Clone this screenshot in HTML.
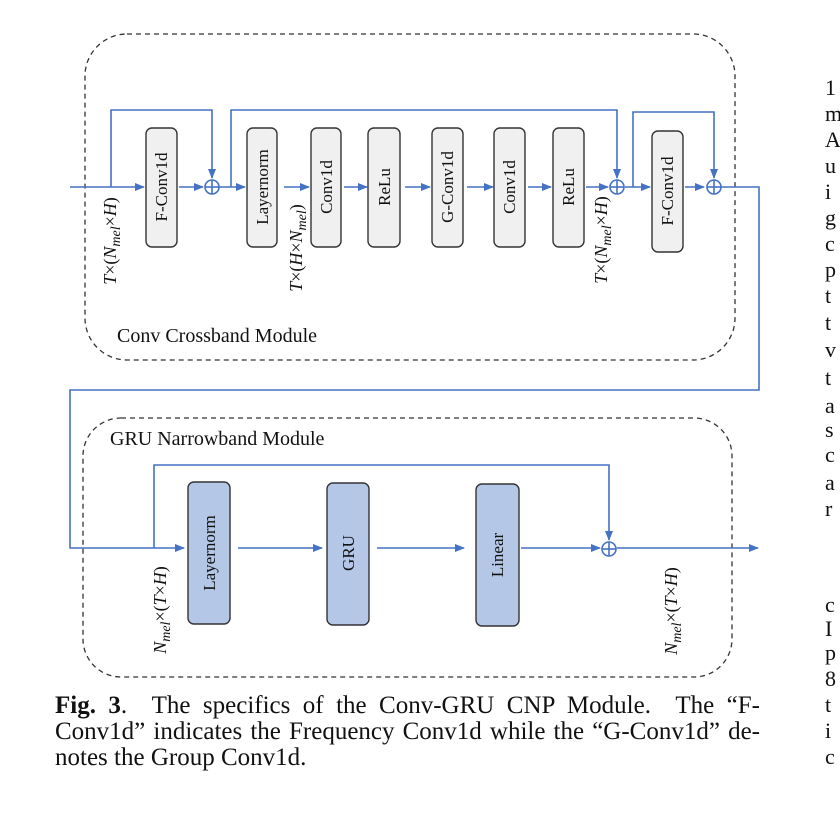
<!DOCTYPE html>
<html><head><meta charset="utf-8"><style>
html,body{margin:0;padding:0;background:#fff}
svg{display:block;position:absolute;left:0;top:0}
text{font-family:"Liberation Serif",serif;fill:#111}
.b{font-size:17px}
.cap{position:absolute;left:55px;top:0;width:705px;font-family:"Liberation Serif",serif;font-size:25px;color:#111}
.cap div{position:absolute;left:0;width:705px;white-space:nowrap;text-align:justify;text-align-last:justify;line-height:26px}
</style></head><body>
<svg width="840" height="820" viewBox="0 0 840 820" xmlns="http://www.w3.org/2000/svg">
<defs>
<marker id="a" markerWidth="10" markerHeight="8" refX="9" refY="4" orient="auto" markerUnits="userSpaceOnUse">
<path d="M0,0 L10,4 L0,8 z" fill="#4472c4"/></marker>
</defs>
<rect x="85" y="34" width="650" height="326" rx="42" fill="none" stroke="#333" stroke-width="1.3" stroke-dasharray="5,4"/>
<rect x="83" y="418" width="649" height="259" rx="38" fill="none" stroke="#333" stroke-width="1.3" stroke-dasharray="5,4"/>
<text x="117" y="342" font-size="20">Conv Crossband Module</text>
<text x="110" y="445" font-size="20">GRU Narrowband Module</text>

<g stroke="#4472c4" stroke-width="1.6" fill="none">
<line x1="70" y1="187" x2="144" y2="187" marker-end="url(#a)"/>
<polyline points="111,187 111,110 212,110 212,178" marker-end="url(#a)"/>
<line x1="179" y1="187" x2="203" y2="187" marker-end="url(#a)"/>
<line x1="219" y1="187" x2="245" y2="187" marker-end="url(#a)"/>
<polyline points="231,187 231,110 617,110 617,178" marker-end="url(#a)"/>
<line x1="284" y1="187" x2="309" y2="187" marker-end="url(#a)"/>
<line x1="344" y1="187" x2="367" y2="187" marker-end="url(#a)"/>
<line x1="405" y1="187" x2="430" y2="187" marker-end="url(#a)"/>
<line x1="467" y1="187" x2="493" y2="187" marker-end="url(#a)"/>
<line x1="528" y1="187" x2="551" y2="187" marker-end="url(#a)"/>
<line x1="586" y1="187" x2="608" y2="187" marker-end="url(#a)"/>
<line x1="625" y1="187" x2="650" y2="187" marker-end="url(#a)"/>
<polyline points="633,187 633,112 714,112 714,178" marker-end="url(#a)"/>
<line x1="685" y1="187" x2="704" y2="187" marker-end="url(#a)"/>
<polyline points="721,187 759,187 759,390 70,390 70,548 184,548" marker-end="url(#a)"/>
<polyline points="154,548 154,465 609,465 609,540" marker-end="url(#a)"/>
<line x1="238" y1="548" x2="322" y2="548" marker-end="url(#a)"/>
<line x1="377" y1="548" x2="464" y2="548" marker-end="url(#a)"/>
<line x1="521" y1="548" x2="600" y2="548" marker-end="url(#a)"/>
<line x1="617" y1="548" x2="758" y2="548" marker-end="url(#a)"/>
<circle cx="212" cy="187" r="7"/><line x1="205" y1="187" x2="219" y2="187"/><line x1="212" y1="180" x2="212" y2="194"/>
<circle cx="617" cy="187" r="7"/><line x1="610" y1="187" x2="624" y2="187"/><line x1="617" y1="180" x2="617" y2="194"/>
<circle cx="714" cy="187" r="7"/><line x1="707" y1="187" x2="721" y2="187"/><line x1="714" y1="180" x2="714" y2="194"/>
<circle cx="609" cy="549" r="7"/><line x1="602" y1="549" x2="616" y2="549"/><line x1="609" y1="542" x2="609" y2="556"/>
</g>

<g fill="#f0f0f0" stroke="#333" stroke-width="1.4">
<rect x="146" y="128" width="31" height="119" rx="6"/>
<rect x="247" y="128" width="30" height="119" rx="6"/>
<rect x="311" y="128" width="30" height="119" rx="6"/>
<rect x="368" y="128" width="32" height="119" rx="6"/>
<rect x="432" y="128" width="31" height="119" rx="6"/>
<rect x="494" y="128" width="31" height="119" rx="6"/>
<rect x="553" y="128" width="31" height="119" rx="6"/>
<rect x="652" y="131" width="31" height="121" rx="6"/>
</g>
<g fill="#b4c7e7" stroke="#333" stroke-width="1.4">
<rect x="188" y="482" width="42" height="142" rx="6"/>
<rect x="327" y="483" width="42" height="142" rx="6"/>
<rect x="476" y="484" width="43" height="142" rx="6"/>
</g>
<g class="b" text-anchor="middle">
<text transform="translate(167,187) rotate(-90)">F-Conv1d</text>
<text transform="translate(268,187) rotate(-90)">Layernorm</text>
<text transform="translate(332,187) rotate(-90)">Conv1d</text>
<text transform="translate(390,187) rotate(-90)">ReLu</text>
<text transform="translate(453,187) rotate(-90)">G-Conv1d</text>
<text transform="translate(515,187) rotate(-90)">Conv1d</text>
<text transform="translate(574,187) rotate(-90)">ReLu</text>
<text transform="translate(673,191) rotate(-90)">F-Conv1d</text>
<text transform="translate(215,553) rotate(-90)">Layernorm</text>
<text transform="translate(354,553) rotate(-90)">GRU</text>
<text transform="translate(503,555) rotate(-90)">Linear</text>
</g>
<g font-size="18" text-anchor="middle">
<text transform="translate(116,241) rotate(-90)"><tspan font-style="italic">T</tspan>×(<tspan font-style="italic">N<tspan font-size="14" dy="4">mel</tspan></tspan><tspan dy="-4">×</tspan><tspan font-style="italic">H</tspan>)</text>
<text transform="translate(302,248) rotate(-90)"><tspan font-style="italic">T</tspan>×(<tspan font-style="italic">H</tspan>×<tspan font-style="italic">N<tspan font-size="14" dy="4">mel</tspan></tspan><tspan dy="-4">)</tspan></text>
<text transform="translate(607,240) rotate(-90)"><tspan font-style="italic">T</tspan>×(<tspan font-style="italic">N<tspan font-size="14" dy="4">mel</tspan></tspan><tspan dy="-4">×</tspan><tspan font-style="italic">H</tspan>)</text>
<text transform="translate(166,610) rotate(-90)"><tspan font-style="italic">N<tspan font-size="14" dy="4">mel</tspan></tspan><tspan dy="-4">×(</tspan><tspan font-style="italic">T</tspan>×<tspan font-style="italic">H</tspan>)</text>
<text transform="translate(677,611) rotate(-90)"><tspan font-style="italic">N<tspan font-size="14" dy="4">mel</tspan></tspan><tspan dy="-4">×(</tspan><tspan font-style="italic">T</tspan>×<tspan font-style="italic">H</tspan>)</text>
</g>

<g font-size="22">
<text x="825" y="95">1</text>
<text x="825" y="121">m</text>
<text x="825" y="147">A</text>
<text x="825" y="173">u</text>
<text x="825" y="199">i</text>
<text x="825" y="225">g</text>
<text x="825" y="251">c</text>
<text x="825" y="277">p</text>
<text x="825" y="303">t</text>
<text x="825" y="330">t</text>
<text x="825" y="357">v</text>
<text x="825" y="385">t</text>
<text x="825" y="413">a</text>
<text x="825" y="437">s</text>
<text x="825" y="462">c</text>
<text x="825" y="490">a</text>
<text x="825" y="516">r</text>
<text x="825" y="612">c</text>
<text x="825" y="636">I</text>
<text x="825" y="660">p</text>
<text x="825" y="686">8</text>
<text x="825" y="712">t</text>
<text x="825" y="738">i</text>
<text x="825" y="764">c</text>
</g>
</svg>
<div class="cap">
<div style="top:693px"><b>Fig. 3</b>.&nbsp; The specifics of the Conv-GRU CNP Module.&nbsp; The “F-</div>
<div style="top:719px">Conv1d” indicates the Frequency Conv1d while the “G-Conv1d” de-</div>
<div style="top:745px;text-align-last:left">notes the Group Conv1d.</div>
</div>
</body></html>
